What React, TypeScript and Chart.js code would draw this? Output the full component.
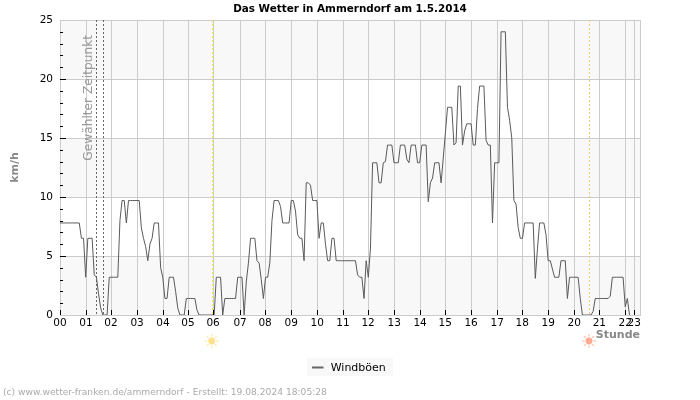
import React, { useEffect, useRef } from "react";
import { Chart, registerables } from "chart.js";

Chart.register(...registerables);

const chartTitle = "Das Wetter in Ammerndorf am 1.5.2014";
const seriesName = "Windböen";
const yTitle = "km/h";
const xTitle = "Stunde";
const selectedLabel = "Gewählter Zeitpunkt";
const footer = "(c) www.wetter-franken.de/ammerndorf - Erstellt: 19.08.2024 18:05:28";

const hourLabels = ["00","01","02","03","04","05","06","07","08","09","10","11","12","13","14","15","16","17","18","19","20","21","22","23"];
const hourSamples = [0,12.15,23.8,36,48.1,59.8,71.5,84.1,95.8,108,120.1,132.2,143.9,156.1,168.2,179.9,192,204.2,215.9,228,240.2,251.9,264,268.2];

const h00 = [7.8,7.8,7.8,7.8,7.8,7.8,7.8,7.8,7.8,7.8,6.5,6.5];
const h01 = [3.2,6.5,6.5,6.5,3.4,3.2,1.8,0.6,0,0,0,3.2];
const h02 = [3.2,3.2,3.2,3.2,8,9.7,9.7,7.8,9.7,9.7,9.7,9.7];
const h03 = [9.7,9.7,7.4,6.5,5.8,4.6,6,6.5,7.8,7.8,7.8,4];
const h04 = [3.2,1.4,1.4,3.2,3.2,3.2,2,0.6,0,0,0,1.4];
const h05 = [1.4,1.4,1.4,1.4,0.4,0,0,0,0,0,0,0];
const h06 = [0,3.2,3.2,3.2,0,1.4,1.4,1.4,1.4,1.4,1.4,3.2];
const h07 = [3.2,3.2,0,2.8,4.4,6.5,6.5,6.5,4.6,4.4,3,1.4];
const h08 = [3.2,3.2,4.4,8,9.7,9.7,9.7,9.2,7.8,7.8,7.8,7.8];
const h09 = [9.7,9.7,8.8,6.8,6.5,6.5,4.6,11.2,11.2,11,9.7,9.7];
const h10 = [9.7,6.5,7.8,7.8,6,4.6,4.6,6.5,6.5,4.6,4.6,4.6];
const h11 = [4.6,4.6,4.6,4.6,4.6,4.6,4.6,3.4,3.2,3.2,1.4,4.6];
const h12 = [3.2,5.6,12.9,12.9,12.9,11.2,11.2,12.9,13,14.4,14.4,14.4];
const h13 = [12.9,12.9,12.9,14.4,14.4,14.4,13.2,12.9,14.4,14.4,14.4,12.9];
const h14 = [12.9,14.4,14.4,14.4,9.6,11.2,11.6,12.9,12.9,12.9,11.2,13.3];
const h15 = [15.4,17.6,17.6,17.6,14.4,14.6,19.4,19.4,14.4,15.6,16.2,16.2];
const h16 = [16.2,14.4,14.4,17.5,19.4,19.4,19.4,14.8,14.4,14.4,7.8,12.9];
const h17 = [12.9,12.9,24,24,24,17.6,16.5,15,9.7,9.4,7.4,6.5];
const h18 = [6.5,7.8,7.8,7.8,7.8,7.8,3.1,5.6,7.8,7.8,7.8,6.8];
const h19 = [4.6,4.6,3.9,3.2,3.2,3.2,4.6,4.6,4.6,1.4,3.2,3.2];
const h20 = [3.2,3.2,3.2,1.4,0,0,0,0,0,0.3,1.4,1.4];
const h21 = [1.4,1.4,1.4,1.4,1.4,1.6,3.2,3.2,3.2,3.2,3.2,3.2];
const h22 = [0.7,1.4,0];
const gusts = [...h00,...h01,...h02,...h03,...h04,...h05,...h06,...h07,...h08,...h09,...h10,...h11,...h12,...h13,...h14,...h15,...h16,...h17,...h18,...h19,...h20,...h21,...h22];

const xMax = 270.9;
const selectedLines = [16.9, 20.1];
const sunrise = 71.1;
const sunset = 247.3;
const bands = [[0,5],[10,15],[20,25]];

const FONT = "'DejaVu Sans'";

function drawSun(ctx: any, cx: number, cy: number, color: string) {
  ctx.save();
  ctx.fillStyle = color;
  ctx.strokeStyle = color;
  ctx.beginPath();
  ctx.arc(cx, cy, 3.4, 0, Math.PI * 2);
  ctx.fill();
  ctx.globalAlpha = 0.75;
  ctx.lineWidth = 1.2;
  for (let i = 0; i < 8; i++) {
    const t = (i * Math.PI) / 4;
    ctx.beginPath();
    ctx.moveTo(cx + Math.cos(t) * 4.4, cy + Math.sin(t) * 4.4);
    ctx.lineTo(cx + Math.cos(t) * 7, cy + Math.sin(t) * 7);
    ctx.stroke();
  }
  ctx.restore();
}

const decor = {
  id: "decor",
  beforeDraw(chart: any) {
    const { ctx } = chart;
    ctx.save();
    ctx.fillStyle = "#f8f8f8";
    ctx.fillRect(307, 358, 86, 18);
    ctx.restore();
  },
  beforeDatasetsDraw(chart: any) {
    const { ctx, chartArea: a, scales: { x, y } } = chart;
    ctx.save();
    ctx.fillStyle = "#f8f8f8";
    for (const [lo, hi] of bands) {
      ctx.fillRect(a.left, y.getPixelForValue(hi), a.right - a.left, y.getPixelForValue(lo) - y.getPixelForValue(hi));
    }
    ctx.strokeStyle = "#cccccc";
    ctx.lineWidth = 1;
    for (const v of [0,5,10,15,20,25]) {
      const p = Math.round(y.getPixelForValue(v)) + 0.5;
      ctx.beginPath(); ctx.moveTo(a.left, p); ctx.lineTo(a.right, p); ctx.stroke();
    }
    for (const v of hourSamples) {
      const p = Math.round(x.getPixelForValue(v)) + 0.5;
      ctx.beginPath(); ctx.moveTo(p, a.top); ctx.lineTo(p, a.bottom); ctx.stroke();
    }
    ctx.strokeRect(a.left + 0.5, a.top + 0.5, a.right - a.left, a.bottom - a.top);
    const vline = (v: number, color: string) => {
      const p = Math.round(x.getPixelForValue(v)) + 0.5;
      ctx.strokeStyle = color;
      ctx.setLineDash([2, 2]);
      ctx.beginPath(); ctx.moveTo(p, a.top); ctx.lineTo(p, a.bottom); ctx.stroke();
      ctx.setLineDash([]);
    };
    for (const v of selectedLines) vline(v, "#666666");
    vline(sunrise, "#f7ea3c");
    vline(sunset, "#f5c878");
    ctx.restore();
  },
  afterDatasetsDraw(chart: any) {
    const { ctx, chartArea: a, scales: { x, y } } = chart;
    ctx.save();
    ctx.strokeStyle = "#cccccc";
    ctx.lineWidth = 1;
    const base = Math.round(a.bottom) + 0.5;
    ctx.beginPath(); ctx.moveTo(a.left, base); ctx.lineTo(a.right, base); ctx.stroke();
    ctx.strokeStyle = "#000000";
    for (let v = 1; v < 25; v++) {
      const p = Math.round(y.getPixelForValue(v)) + 0.5;
      ctx.beginPath(); ctx.moveTo(a.left, p); ctx.lineTo(a.left + (v % 5 === 0 ? 6 : 3), p); ctx.stroke();
    }
    for (const v of hourSamples) {
      const p = Math.round(x.getPixelForValue(v)) + 0.5;
      ctx.beginPath(); ctx.moveTo(p, a.bottom); ctx.lineTo(p, a.bottom - 5); ctx.stroke();
    }
    ctx.fillStyle = "#999999";
    ctx.font = `12.2px ${FONT}`;
    ctx.textAlign = "left";
    ctx.textBaseline = "middle";
    ctx.translate(x.getPixelForValue(13.7), y.getPixelForValue(13.08));
    ctx.rotate(-Math.PI / 2);
    ctx.fillText(selectedLabel, 0, 0);
    ctx.restore();

    drawSun(ctx, x.getPixelForValue(sunrise) - 0.5, 341, "#ffe08c");
    drawSun(ctx, x.getPixelForValue(sunset) - 0.5, 341, "#ffab92");

    ctx.save();
    ctx.strokeStyle = "#666666";
    ctx.lineWidth = 2;
    ctx.beginPath(); ctx.moveTo(312, 367.5); ctx.lineTo(323.5, 367.5); ctx.stroke();
    ctx.textAlign = "left";
    ctx.textBaseline = "middle";
    ctx.font = `9.15px ${FONT}`;
    ctx.fillStyle = "#aaaaaa";
    ctx.fillText(footer, 3, 393);
    ctx.restore();
  },
};

export default function App() {
  const ref = useRef<HTMLCanvasElement>(null);
  useEffect(() => {
    const chart = new Chart(ref.current!, {
      type: "line",
      data: {
        labels: gusts.map((_, i) => i),
        datasets: [{
          label: seriesName,
          data: gusts.map((v, i) => ({ x: i, y: v })),
          borderColor: "#5a5a5a",
          backgroundColor: "#5a5a5a",
          borderWidth: 1,
          pointRadius: 0,
          tension: 0,
          fill: false,
        }],
      },
      options: {
        responsive: false,
        animation: false,
        layout: { padding: { top: 0, right: 0, bottom: 16, left: 0 } },
        font: { family: FONT },
        plugins: {
          title: {
            display: true,
            text: chartTitle,
            color: "#000000",
            font: { family: FONT, size: 10.4, weight: "bold" },
            padding: { top: 3, bottom: 4.5 },
          },
          legend: {
            position: "bottom",
            labels: {
              color: "#000000",
              font: { family: FONT, size: 11 },
              usePointStyle: true,
              pointStyle: "line",
              boxWidth: 12,
              boxHeight: 12,
              padding: 4,
              generateLabels: (c: any) =>
                Chart.defaults.plugins.legend.labels.generateLabels(c).map((l: any) => ({ ...l, strokeStyle: "rgba(0,0,0,0)" })),
            },
          },
          tooltip: { enabled: false },
        },
        scales: {
          x: {
            type: "linear",
            min: 0,
            max: xMax,
            afterFit: (s: any) => { s.height = 44; },
            afterBuildTicks: (s: any) => { s.ticks = hourSamples.map((value) => ({ value })); },
            grid: { display: false, drawTicks: false },
            border: { display: false },
            ticks: {
              autoSkip: false,
              maxRotation: 0,
              minRotation: 0,
              padding: 2,
              color: "#000000",
              font: { family: FONT, size: 10.5 },
              callback: (v: any) => hourLabels[hourSamples.indexOf(v)],
            },
            title: {
              display: true,
              text: xTitle,
              align: "end",
              color: "#888888",
              font: { family: FONT, size: 11, weight: "bold" },
              padding: { top: 0, bottom: 17 },
            },
          },
          y: {
            min: 0,
            max: 25,
            afterFit: (s: any) => { s.width = 60; },
            grid: { display: false, drawTicks: false },
            border: { display: false },
            ticks: {
              stepSize: 5,
              padding: 7,
              color: "#000000",
              font: { family: FONT, size: 10.5 },
            },
            title: {
              display: true,
              text: yTitle,
              color: "#888888",
              font: { family: FONT, size: 11, weight: "bold" },
              padding: { top: 9, bottom: 0 },
            },
          },
          rightGutter: {
            type: "linear",
            position: "right",
            display: true,
            afterFit: (s: any) => { s.width = 60; },
            grid: { display: false, drawTicks: false },
            border: { display: false },
            ticks: { display: false },
          },
        },
      },
      plugins: [decor],
    } as any);
    return () => chart.destroy();
  }, []);
  return (
    <div style={{ position: "fixed", left: 0, top: 0, width: 700, height: 400 }}>
      <canvas ref={ref} width={700} height={400} style={{ display: "block" }} />
    </div>
  );
}
